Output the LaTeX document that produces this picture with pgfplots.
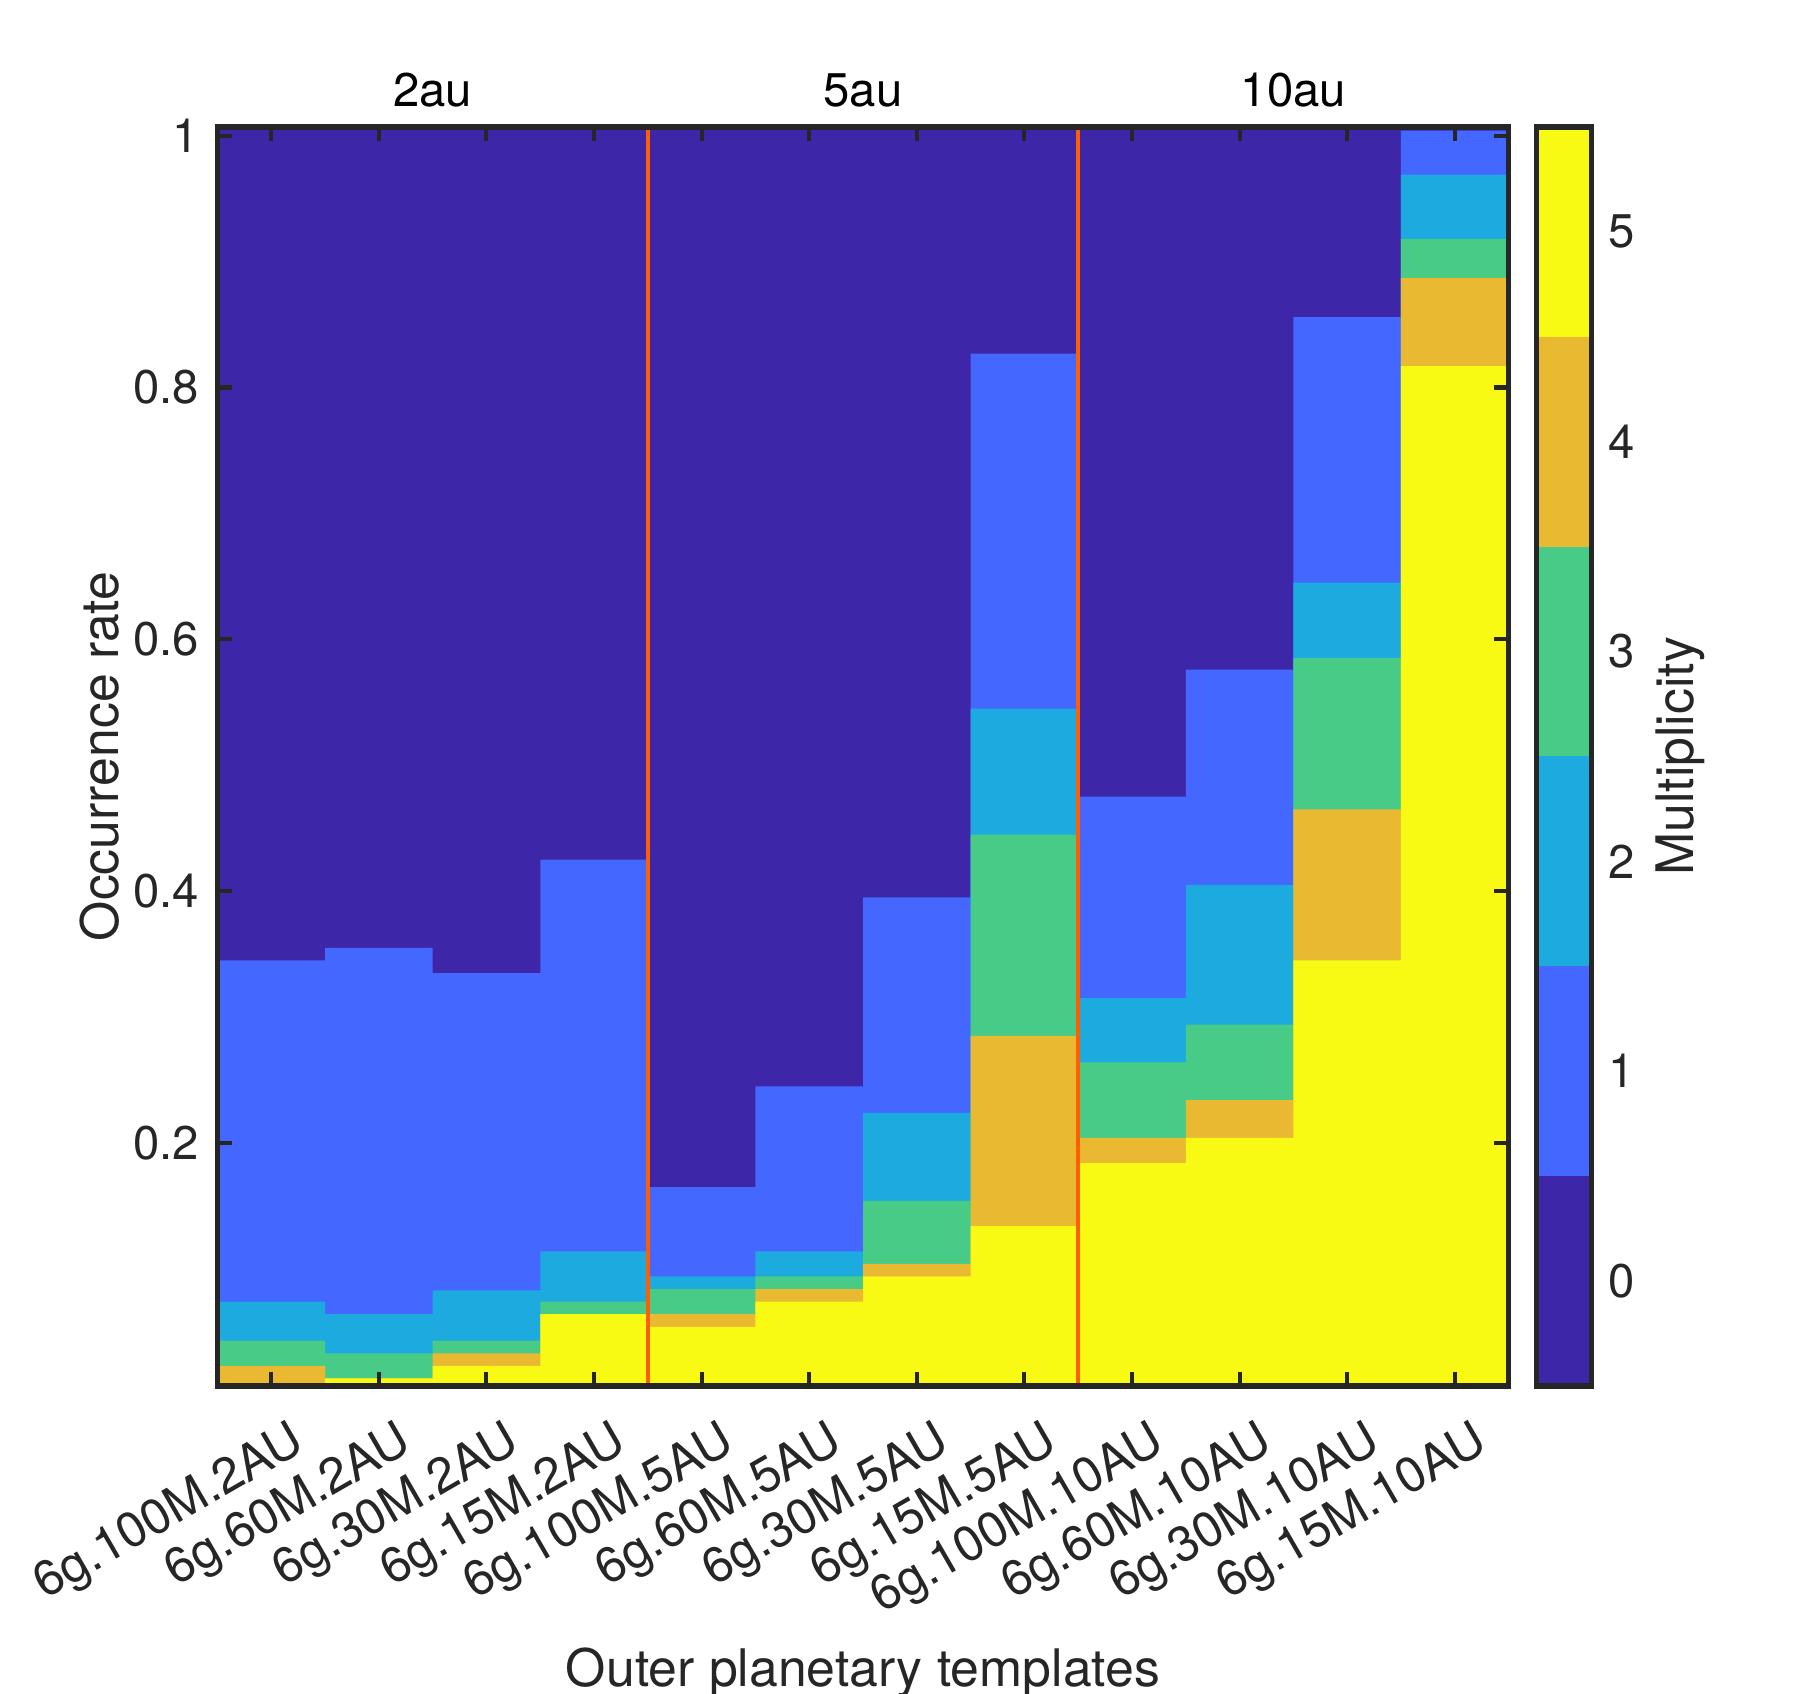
\documentclass[border=0pt]{standalone}
\usepackage{fontspec}
\setmainfont{TeX Gyre Heros}
\usepackage{pgfplots}
\usepackage{pgfplotstable}
\pgfplotsset{compat=1.18}
\definecolor{c0}{RGB}{62,38,168}
\definecolor{c1}{RGB}{67,103,255}
\definecolor{c2}{RGB}{28,170,223}
\definecolor{c3}{RGB}{72,203,135}
\definecolor{c4}{RGB}{233,185,49}
\definecolor{c5}{RGB}{248,250,20}
\definecolor{sepc}{RGB}{255,95,0}
\definecolor{fr}{RGB}{38,38,38}

% cumulative tops of each multiplicity layer (left edge of each template)
\pgfplotstableread{
x    y5    y4    y3    y2    y1
0.5  0.000 0.023 0.043 0.074 0.345
1.5  0.013 0.013 0.033 0.064 0.355
2.5  0.023 0.033 0.043 0.083 0.335
3.5  0.064 0.064 0.074 0.114 0.425
4.5  0.054 0.064 0.084 0.094 0.165
5.5  0.074 0.084 0.094 0.114 0.245
6.5  0.094 0.104 0.154 0.224 0.395
7.5  0.134 0.285 0.445 0.545 0.827
8.5  0.184 0.204 0.264 0.315 0.475
9.5  0.204 0.234 0.294 0.405 0.576
10.5 0.345 0.465 0.585 0.645 0.856
11.5 0.817 0.887 0.918 0.969 1.004
12.5 0.817 0.887 0.918 0.969 1.004
}\data

\newcommand{\tfont}{\fontsize{10.5}{12.6}\selectfont}
\newcommand{\xfont}{\fontsize{11}{13.2}\selectfont}
\newcommand{\lfont}{\fontsize{11.5}{13.8}\selectfont}

\begin{document}
\begin{tikzpicture}
\useasboundingbox (-48.33pt,-68.44pt) rectangle (353.0pt,308.0pt);
\begin{axis}[
  name=main,
  at={(0,0)}, anchor=south west,
  scale only axis, width=286.9pt, height=279.8pt,
  xmin=0.5, xmax=12.5, ymin=0.007, ymax=1.007,
  axis background/.style={fill=c0},
  axis on top,
  xtick={1,...,12},
  xticklabels={6g.100M.2AU,6g.60M.2AU,6g.30M.2AU,6g.15M.2AU,6g.100M.5AU,6g.60M.5AU,6g.30M.5AU,6g.15M.5AU,6g.100M.10AU,6g.60M.10AU,6g.30M.10AU,6g.15M.10AU},
  ytick={0.2,0.4,0.6,0.8,1},
  yticklabels={0.2,0.4,0.6,0.8,1},
  xtick pos=both, ytick pos=both,
  xticklabel pos=lower, yticklabel pos=left,
  tick align=inside,
  major tick length=3.2pt,
  every tick/.style={fr, line width=0.9pt},
  axis line style={fr, line width=1.2pt},
  /pgf/number format/assume math mode=true,
  xticklabel style={xshift=3.8pt, yshift=-6.9pt, rotate=30, anchor=north east, inner sep=0pt, font=\xfont, text=fr},
  yticklabel style={xshift=-3.9pt, anchor=east, inner sep=0pt, font=\tfont, text=fr},
]
\addplot[fill=c1, draw=none, const plot] table[x=x, y=y1] {\data} \closedcycle;
\addplot[fill=c2, draw=none, const plot] table[x=x, y=y2] {\data} \closedcycle;
\addplot[fill=c3, draw=none, const plot] table[x=x, y=y3] {\data} \closedcycle;
\addplot[fill=c4, draw=none, const plot] table[x=x, y=y4] {\data} \closedcycle;
\addplot[fill=c5, draw=none, const plot] table[x=x, y=y5] {\data} \closedcycle;
\addplot[sepc, line width=1pt] coordinates {(4.5,0.007) (4.5,1.007)};
\addplot[sepc, line width=1pt] coordinates {(8.5,0.007) (8.5,1.007)};
\end{axis}

\begin{axis}[
  name=cb,
  at={(293.1pt,0)}, anchor=south west,
  scale only axis, width=12.2pt, height=279.8pt,
  xmin=0, xmax=1, ymin=-0.5, ymax=5.5,
  axis on top,
  xtick=\empty,
  ytick={0,1,2,3,4,5},
  ytick pos=right, yticklabel pos=right,
  major tick length=0pt,
  axis line style={fr, line width=1.2pt},
  /pgf/number format/assume math mode=true,
  yticklabel style={xshift=3.5pt, anchor=west, inner sep=0pt, font=\tfont, text=fr},
]
\addplot[fill=c0, draw=none] coordinates {(0,-0.5) (1,-0.5) (1,0.5) (0,0.5)} -- cycle;
\addplot[fill=c1, draw=none] coordinates {(0,0.5) (1,0.5) (1,1.5) (0,1.5)} -- cycle;
\addplot[fill=c2, draw=none] coordinates {(0,1.5) (1,1.5) (1,2.5) (0,2.5)} -- cycle;
\addplot[fill=c3, draw=none] coordinates {(0,2.5) (1,2.5) (1,3.5) (0,3.5)} -- cycle;
\addplot[fill=c4, draw=none] coordinates {(0,3.5) (1,3.5) (1,4.5) (0,4.5)} -- cycle;
\addplot[fill=c5, draw=none] coordinates {(0,4.5) (1,4.5) (1,5.5) (0,5.5)} -- cycle;
\end{axis}

% group titles above the axis
\node[anchor=base, font=\tfont, text=black] at (47.82pt,284.4pt) {2au};
\node[anchor=base, font=\tfont, text=black] at (143.45pt,284.4pt) {5au};
\node[anchor=base, font=\tfont, text=black] at (239.08pt,284.4pt) {10au};
% axis labels
\node[anchor=base, font=\lfont, text=fr] at (143.45pt,-66.7pt) {Outer planetary templates};
\node[rotate=90, anchor=base, font=\lfont, text=fr] at (-22.1pt,139.9pt) {Occurrence rate};
\node[rotate=90, anchor=base, font=\lfont, text=fr] at (327.9pt,139.9pt) {Multiplicity};
\end{tikzpicture}
\end{document}
